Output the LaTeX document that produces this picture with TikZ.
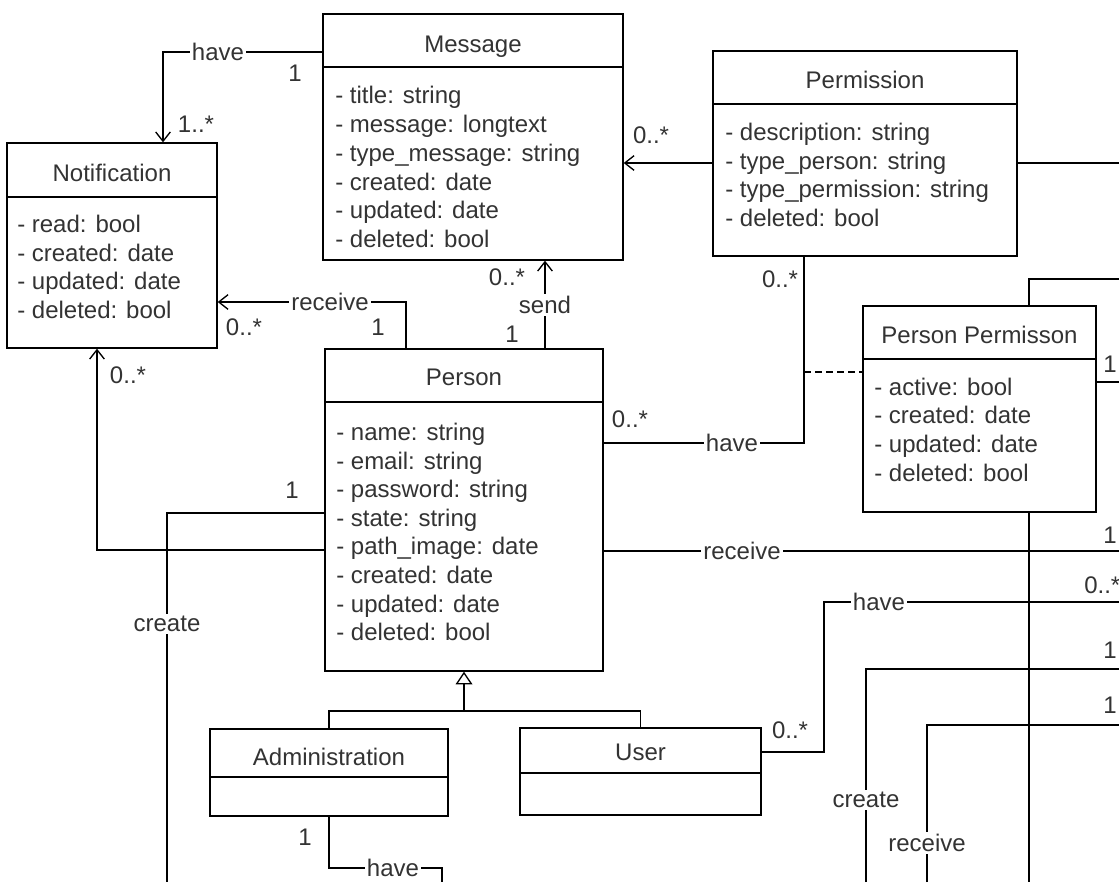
\documentclass[tikz,border=0pt]{standalone}
\usepackage{fontspec}
\usetikzlibrary{arrows.meta,fit}
\newfontfamily\umlfont{Liberation Sans}
\definecolor{txtgray}{HTML}{333333}
\begin{document}
\begin{tikzpicture}[x=0.75pt,y=-0.75pt,
  classbox/.style={draw=black, line width=1pt, fill=white, inner sep=0pt},
  wire/.style={draw=black, line width=1pt},
  navig/.style={-{Straight Barb[length=7pt,width=11pt,line width=1pt]}},
  gen/.style={-{Triangle[open,length=9.5pt,width=12.5pt,line width=1pt,fill=white]}},
  attr/.style={text=txtgray, font=\umlfont\fontsize{18}{21}\selectfont, inner sep=0pt, anchor=base west},
  ttl/.style={text=txtgray, font=\umlfont\fontsize{18}{21}\selectfont, inner sep=0pt, anchor=base},
  mult/.style={ttl},
  lbl/.style={text=txtgray, font=\umlfont\fontsize{18}{21}\selectfont, fill=white, inner sep=1.5pt, anchor=center}]

\fill[white] (0,0) rectangle (1119,882);
\useasboundingbox (0,0) rectangle (1119,882);

% ---------- classes ----------
\node[classbox, fit={(323,14)(623,260)}] (msg) {};
\draw[wire] (msg.west |- 0,67) -- (msg.east |- 0,67);
\node[ttl] (msgT) at (473,52) {Message};
\node[attr] (msgA1) at (335,103) {- title: string};
\node[attr] (msgA2) at (335,132) {- message: longtext};
\node[attr] (msgA3) at (335,161) {- type\_message: string};
\node[attr] (msgA4) at (335,190) {- created: date};
\node[attr] (msgA5) at (335,218) {- updated: date};
\node[attr] (msgA6) at (335,247) {- deleted: bool};

\node[classbox, fit={(7,143)(217,348)}] (ntf) {};
\draw[wire] (ntf.west |- 0,197) -- (ntf.east |- 0,197);
\node[ttl] (ntfT) at (112,181) {Notification};
\node[attr] (ntfA1) at (17,232) {- read: bool};
\node[attr] (ntfA2) at (17,261) {- created: date};
\node[attr] (ntfA3) at (17,289) {- updated: date};
\node[attr] (ntfA4) at (17,318) {- deleted: bool};

\node[classbox, fit={(713,51)(1017,256)}] (prm) {};
\draw[wire] (prm.west |- 0,104) -- (prm.east |- 0,104);
\node[ttl] (prmT) at (865,88) {Permission};
\node[attr] (prmA1) at (725,140) {- description: string};
\node[attr] (prmA2) at (725,169) {- type\_person: string};
\node[attr] (prmA3) at (725,197) {- type\_permission: string};
\node[attr] (prmA4) at (725,226) {- deleted: bool};

\node[classbox, fit={(325,349)(603,671)}] (prs) {};
\draw[wire] (prs.west |- 0,402) -- (prs.east |- 0,402);
\node[ttl] (prsT) at (464,385) {Person};
\node[attr] (prsA1) at (336,440) {- name: string};
\node[attr] (prsA2) at (336,469) {- email: string};
\node[attr] (prsA3) at (336,497) {- password: string};
\node[attr] (prsA4) at (336,526) {- state: string};
\node[attr] (prsA5) at (336,554) {- path\_image: date};
\node[attr] (prsA6) at (336,583) {- created: date};
\node[attr] (prsA7) at (336,612) {- updated: date};
\node[attr] (prsA8) at (336,640) {- deleted: bool};

\node[classbox, fit={(863,306)(1096,512)}] (pp) {};
\draw[wire] (pp.west |- 0,359) -- (pp.east |- 0,359);
\node[ttl] (ppT) at (979.5,343) {Person Permisson};
\node[attr] (ppA1) at (874,395) {- active: bool};
\node[attr] (ppA2) at (874,423) {- created: date};
\node[attr] (ppA3) at (874,452) {- updated: date};
\node[attr] (ppA4) at (874,481) {- deleted: bool};

\node[classbox, fit={(210,729)(448,816)}] (adm) {};
\draw[wire] (adm.west |- 0,777) -- (adm.east |- 0,777);
\node[ttl] (admT) at (329,765) {Administration};

\node[classbox, fit={(520,728)(761,815)}] (usr) {};
\draw[wire] (usr.west |- 0,773) -- (usr.east |- 0,773);
\node[ttl] (usrT) at (640.5,760) {User};

% ---------- loose ends at the page border ----------
\coordinate (e1) at (1119,163);
\coordinate (e2) at (1119,279);
\coordinate (e3) at (1119,382);
\coordinate (e4) at (1029,882);
\coordinate (e5) at (1119,551);
\coordinate (e6) at (1119,602);
\coordinate (e7) at (1119,669);
\coordinate (e8) at (866,882);
\coordinate (e9) at (1119,725);
\coordinate (e10) at (927,882);
\coordinate (e11) at (167,882);
\coordinate (e12) at (442,882);

% ---------- associations ----------
\draw[wire,navig] (msg.west |- 0,52) -| (ntf.north -| 163,0);
\draw[wire,navig] (prs.north -| 406,0) |- (ntf.east |- 0,302);
\draw[wire,navig] (prs.north -| 545,0) -- (msg.south -| 545,0);
\draw[wire,navig] (prm.west |- 0,163) -- (msg.east |- 0,163);
\draw[wire] (prm.east |- e1) -- (e1);
\draw[wire] (prs.east |- 0,443) -| (prm.south -| 804,0);
\coordinate (ac) at (804,372);
\draw[wire,dash pattern=on 5.25pt off 3pt] (ac) -- (pp.west |- ac);
\draw[wire] (pp.north -| e4) |- (e2);
\draw[wire] (pp.east |- e3) -- (e3);
\draw[wire] (pp.south -| e4) -- (e4);
\draw[wire] (prs.east |- e5) -- (e5);
\draw[wire] (usr.east |- 0,752) -- (824,752) |- (e6);
\draw[wire] (e8) |- (e7);
\draw[wire] (e10) |- (e9);
\draw[wire] (prs.west |- 0,513) -| (e11);
\draw[wire,navig] (prs.west |- 0,550) -| (ntf.south -| 97,0);
\draw[wire] (adm.south) |- (e12 |- 0,868) -- (e12);

% ---------- generalisation ----------
\draw[wire] (adm.north) |- (usr.north |- 0,711) -- (usr.north);
\draw[wire,gen] (prs.south |- 0,711) -- (prs.south);

% ---------- association names ----------
\node[lbl] (n1) at (218,52) {have};
\node[lbl] (n2) at (330,302) {receive};
\node[lbl] (n3) at (545,305) {send};
\node[lbl] (n4) at (732,443) {have};
\node[lbl] (n5) at (742,551) {receive};
\node[lbl] (n6) at (879,602) {have};
\node[lbl] (n7) at (866,800) {create};
\node[lbl] (n8) at (927,843) {receive};
\node[lbl] (n9) at (167,624) {create};
\node[lbl] (n10) at (393,868) {have};

% ---------- multiplicities ----------
\node[mult] (m1) at (295,81) {1};
\node[mult] (m2) at (196,132) {1..*};
\node[mult] (m3) at (378,335) {1};
\node[mult] (m4) at (244,335) {0..*};
\node[mult] (m5) at (507,285) {0..*};
\node[mult] (m6) at (512,342) {1};
\node[mult] (m7) at (651,143) {0..*};
\node[mult] (m8) at (780,287) {0..*};
\node[mult] (m9) at (630,427) {0..*};
\node[mult] (m10) at (1110,372) {1};
\node[mult] (m11) at (1110,543) {1};
\node[attr] (m12) at (1084,593) {0..*};
\node[mult] (m13) at (1110,658) {1};
\node[mult] (m14) at (1110,713) {1};
\node[mult] (m15) at (790,738) {0..*};
\node[mult] (m16) at (292,498) {1};
\node[mult] (m17) at (128,383) {0..*};
\node[mult] (m18) at (305,845) {1};
\end{tikzpicture}
\end{document}
